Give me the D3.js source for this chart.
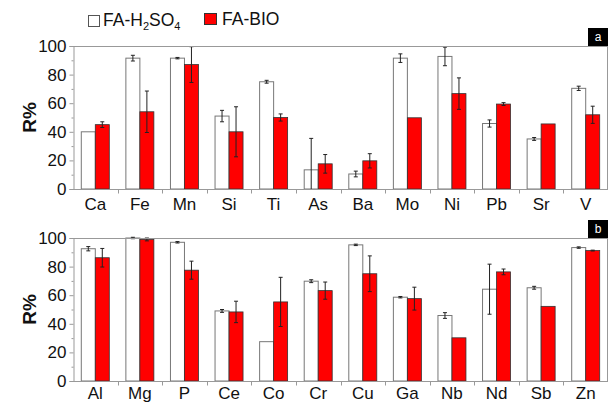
<!DOCTYPE html>
<html><head><meta charset="utf-8">
<script src="https://cdn.jsdelivr.net/npm/d3@7/dist/d3.min.js"></script>
<style>body{margin:0;background:#fff}svg{display:block}</style>
</head><body><svg id="c" width="609" height="403"></svg>
<script>
const catsA = ["Ca","Fe","Mn","Si","Ti","As","Ba","Mo","Ni","Pb","Sr","V"];
const h2so4A = [40,91.5,91.5,51,75,13.4,10.5,91.5,92.7,45.8,35,70.4];
const h2so4ErrA = [0,2,0.5,4,1,22,2,3,6.5,2.5,1,1.5];
const bioA = [45,54,87,40,50,17.6,19.7,49.8,66.7,59.4,45.5,51.9];
const bioErrA = [2,14.5,12.5,17.5,2.5,6.5,5,0,11,1,0,6];

const catsB = ["Al","Mg","P","Ce","Co","Cr","Cu","Ga","Nb","Nd","Sb","Zn"];
const h2so4B = [92.5,100,97,49,27.5,69.8,95.2,58.6,45.8,64.2,65.2,93.3];
const h2so4ErrB = [1.5,0.5,0.5,1,0,1,0.5,0.5,2,17.5,1,0.5];
const bioB = [86.2,99,77.5,48.3,55.3,63.2,75,57.6,30.2,76.3,52.2,91.2];
const bioErrB = [6.5,1,6.3,7.5,17.2,6,12.5,8,0,2,0,0.3];

const yTicks = [0,20,40,60,80,100];
const legendLabels = ["FA-H2SO4","FA-BIO"];

const svg = d3.select("#c");
const font = "Liberation Sans, Arial, sans-serif";

function panel(cats, v1, e1, v2, e2, top, bottom, tag, labelY) {
  const left = 73, right = 608;
  const x = d3.scaleBand().domain(cats).range([left, right]).paddingInner(0).paddingOuter(0);
  const y = d3.scaleLinear().domain([0,100]).range([bottom, top]);
  const g = svg.append("g");
  const bw = 14;
  const data = cats.map((c,i)=>({c, v1:v1[i], e1:e1[i], v2:v2[i], e2:e2[i]}));
  data.forEach(d=>{
    const cx = x(d.c) + x.bandwidth()/2;
    g.append("rect").attr("x", cx-bw).attr("y", y(d.v1)).attr("width", bw).attr("height", y(0)-y(d.v1))
      .attr("fill","#fff").attr("stroke","#777").attr("stroke-width",1);
    g.append("rect").attr("x", cx).attr("y", y(d.v2)).attr("width", bw).attr("height", y(0)-y(d.v2))
      .attr("fill","#ff0000").attr("stroke","#333").attr("stroke-width",0.8);
  });
  const eb = (cx, v, e) => {
    if (!e) return;
    const yt = y(Math.min(v+e, 100.5)), yb = y(Math.max(v-e, 0));
    g.append("line").attr("x1",cx).attr("x2",cx).attr("y1",yt).attr("y2",yb).attr("stroke","#222").attr("stroke-width",1);
    g.append("line").attr("x1",cx-2).attr("x2",cx+2).attr("y1",yt).attr("y2",yt).attr("stroke","#222").attr("stroke-width",1);
    if (v-e > 0) g.append("line").attr("x1",cx-2).attr("x2",cx+2).attr("y1",yb).attr("y2",yb).attr("stroke","#222").attr("stroke-width",1);
  };
  data.forEach(d=>{
    const cx = x(d.c) + x.bandwidth()/2;
    eb(cx - bw/2, d.v1, d.e1);
    eb(cx + bw/2, d.v2, d.e2);
  });
  g.append("line").attr("x1",left).attr("x2",right).attr("y1",top+0.5).attr("y2",top+0.5).attr("stroke","#999");
  g.append("line").attr("x1",right-0.5).attr("x2",right-0.5).attr("y1",top).attr("y2",bottom).attr("stroke","#999");
  const ya = d3.axisLeft(y).tickValues(yTicks).tickSize(4).tickPadding(3);
  const yg = g.append("g").attr("transform",`translate(${left+0.5},0)`).call(ya);
  yg.select(".domain").attr("stroke","#999");
  yg.selectAll(".tick line").attr("stroke","#999");
  yg.selectAll("text").attr("font-family",font).attr("font-size",17).attr("fill","#111");
  const minor = d3.range(10,100,20);
  yg.selectAll(".minor").data(minor).join("line").attr("class","minor")
    .attr("x1",-2).attr("x2",0).attr("y1",d=>y(d)+0.5).attr("y2",d=>y(d)+0.5).attr("stroke","#999");
  const xg = g.append("g").attr("transform",`translate(0,${bottom+0.5})`);
  xg.append("line").attr("x1",left).attr("x2",right).attr("stroke","#999");
  xg.selectAll(".bt").data(cats.slice(1)).join("line").attr("class","bt")
    .attr("x1",d=>Math.round(x(d))+0.5).attr("x2",d=>Math.round(x(d))+0.5).attr("y1",0).attr("y2",4).attr("stroke","#999");
  xg.selectAll(".xl").data(cats).join("text").attr("class","xl")
    .attr("x",d=>x(d)+x.bandwidth()/2).attr("y",labelY).attr("text-anchor","middle")
    .attr("font-family",font).attr("font-size",17).attr("fill","#111").text(d=>d);
  g.append("text").attr("transform",`translate(36,${(top+bottom)/2}) rotate(-90)`).attr("text-anchor","middle")
    .attr("font-family",font).attr("font-weight","bold").attr("font-size",19).attr("fill","#111").text("R%");
  g.append("rect").attr("x",588).attr("y",top-18).attr("width",20).attr("height",18).attr("fill","#000");
  g.append("text").attr("x",598).attr("y",top-5).attr("text-anchor","middle").attr("font-family",font)
    .attr("font-size",12).attr("fill","#fff").text(tag);
}

panel(catsA, h2so4A, h2so4ErrA, bioA, bioErrA, 46, 189, "a", 20);
panel(catsB, h2so4B, h2so4ErrB, bioB, bioErrB, 238, 381, "b", 17);

const lg = svg.append("g");
lg.append("rect").attr("x",88.5).attr("y",15.5).attr("width",11).attr("height",11).attr("fill","#fff").attr("stroke","#555");
const t1 = lg.append("text").attr("x",103).attr("y",26).attr("font-family",font).attr("font-size",17.5).attr("fill","#111");
t1.append("tspan").text("FA-H");
t1.append("tspan").attr("font-size",11).attr("dy",4).text("2");
t1.append("tspan").attr("dy",-4).text("SO");
t1.append("tspan").attr("font-size",11).attr("dy",4).text("4");
lg.append("rect").attr("x",204.5).attr("y",13.5).attr("width",12).attr("height",11).attr("fill","#ff0000").attr("stroke","#333");
lg.append("text").attr("x",222).attr("y",25).attr("font-family",font).attr("font-size",17.5).attr("fill","#111").text(legendLabels[1]);
</script></body></html>
